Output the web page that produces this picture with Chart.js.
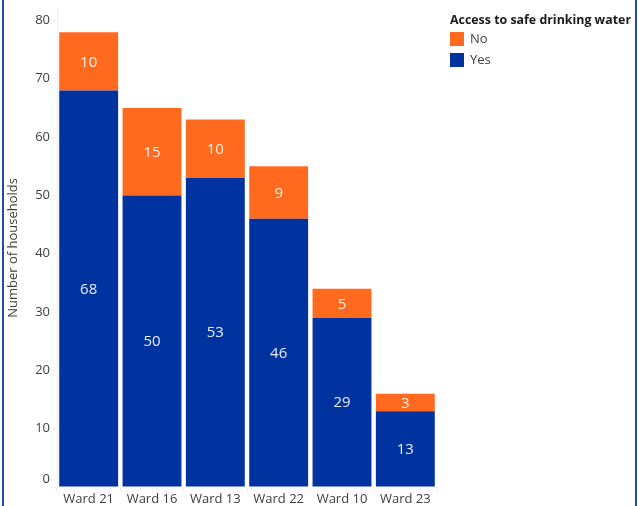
<!DOCTYPE html>
<html>
<head>
<meta charset="utf-8">
<script src="https://cdn.jsdelivr.net/npm/chart.js@4/dist/chart.umd.min.js"></script>
<style>
  html, body { margin: 0; padding: 0; background: #fff; }
  #wrap { width: 638px; height: 506px; position: relative; }
</style>
</head>
<body>
<div id="wrap"><canvas id="c" width="638" height="506"></canvas></div>
<script>
// Households by ward, split by access to safe drinking water
const wards = ['Ward 21', 'Ward 16', 'Ward 13', 'Ward 22', 'Ward 10', 'Ward 23'];
const yesValues = [68, 50, 53, 46, 29, 13];
const noValues = [10, 15, 10, 9, 5, 3];
const yTicks = [0, 10, 20, 30, 40, 50, 60, 70, 80];

const legendTitle = 'Access to safe drinking water';
const FONT = '"Open Sans", "Noto Sans", sans-serif';
const ORANGE = '#FF6A1F';
const BLUE = '#0033A0';
const TEXT = '#404040';

// Draws each segment's value in the middle of the segment
const segmentLabels = {
  id: 'segmentLabels',
  afterDatasetsDraw(chart) {
    const ctx = chart.ctx;
    ctx.save();
    ctx.font = '15px ' + FONT;
    ctx.fillStyle = 'rgba(255,255,255,0.9)';
    ctx.textAlign = 'center';
    ctx.textBaseline = 'middle';
    chart.data.datasets.forEach((ds, i) => {
      const meta = chart.getDatasetMeta(i);
      meta.data.forEach((bar, j) => {
        const v = ds.data[j];
        const cy = (bar.y + bar.base) / 2;
        ctx.fillText(String(v), bar.x, cy + 1);
      });
    });
    ctx.restore();
  }
};

// Legend block on the right, the raised zero label, and the frame lines
const sideLegend = {
  id: 'sideLegend',
  afterDraw(chart) {
    const ctx = chart.ctx;
    ctx.save();
    const x0 = 450;
    ctx.fillStyle = '#1a1a1a';
    ctx.font = 'bold 12.4px ' + FONT;
    ctx.textBaseline = 'middle';
    ctx.textAlign = 'left';
    ctx.fillText(legendTitle, x0, 20);
    const items = [chart.data.datasets[1], chart.data.datasets[0]];
    items.forEach((ds, k) => {
      const cy = 39 + k * 21;
      ctx.fillStyle = ds.backgroundColor;
      ctx.fillRect(x0, cy - 7, 14, 14);
      ctx.fillStyle = TEXT;
      ctx.font = '13px ' + FONT;
      ctx.fillText(ds.label, x0 + 20, cy);
    });
    // zero label sits just above the baseline
    const ys = chart.scales.y;
    ctx.font = '13px ' + FONT;
    ctx.fillStyle = TEXT;
    ctx.textAlign = 'right';
    ctx.fillText(String(yTicks[0]), ys.right - 7, ys.getPixelForValue(yTicks[0]) - 8);
    // frame
    ctx.fillStyle = '#fff';
    ctx.fillRect(636, 0, 2, 506);
    ctx.fillStyle = '#1F4BB0';
    ctx.fillRect(2, 0, 2, 506);
    ctx.fillRect(635, 0, 2, 506);
    ctx.restore();
  }
};

new Chart(document.getElementById('c'), {
  type: 'bar',
  data: {
    labels: wards,
    datasets: [
      { label: 'Yes', data: yesValues, backgroundColor: BLUE },
      { label: 'No', data: noValues, backgroundColor: ORANGE }
    ]
  },
  options: {
    responsive: false,
    animation: false,
    layout: { padding: { left: 4, right: 201, top: 8, bottom: 0 } },
    datasets: { bar: { categoryPercentage: 1, barPercentage: 0.93 } },
    plugins: { legend: { display: false }, tooltip: { enabled: false } },
    scales: {
      x: {
        stacked: true,
        grid: { display: true, drawOnChartArea: false, tickLength: 4, color: '#eeeeee' },
        border: { display: false },
        ticks: { color: TEXT, font: { family: FONT, size: 13 }, padding: 0, maxRotation: 0 },
        afterFit(s) { s.height = 19; }
      },
      y: {
        stacked: true,
        min: 0,
        max: 82,
        afterBuildTicks(s) { s.ticks = yTicks.map(v => ({ value: v })); },
        grid: { display: true, drawOnChartArea: false, tickLength: 6, color: '#eeeeee' },
        border: { display: true, color: '#eeeeee' },
        ticks: {
          color: TEXT, font: { family: FONT, size: 13 }, padding: 1,
          callback: (v) => (v === yTicks[0] ? '' : String(v))
        },
        title: { display: true, text: 'Number of households', color: TEXT, font: { family: FONT, size: 13 }, padding: { top: 1, bottom: 0 } },
        afterFit(s) { s.width = 53; }
      }
    }
  },
  plugins: [segmentLabels, sideLegend]
});
</script>
</body>
</html>
